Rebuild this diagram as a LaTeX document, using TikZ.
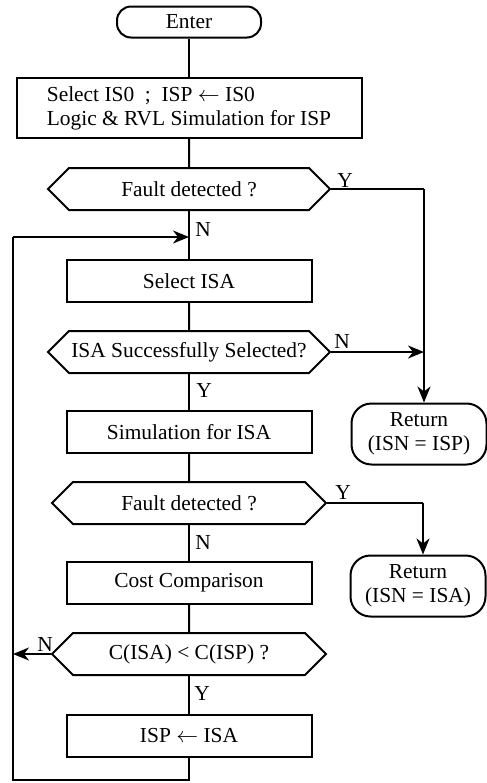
\documentclass[tikz,border=0pt]{standalone}
\usepackage{fontspec}
\setmainfont{Liberation Serif}
\usetikzlibrary{shapes.symbols,arrows.meta}

\begin{document}
\begin{tikzpicture}
            [x=0.5pt,y=-0.5pt,line width=1pt,
             every node/.style={font=\fontsize{10.7}{12}\selectfont,inner sep=0pt},
             term/.style={draw,rounded corners=7pt,minimum width=72pt,minimum height=15.5pt},
             proc/.style={draw,align=left,minimum width=122.5pt,minimum height=21pt},
             dec/.style={draw,signal,signal to=west and east,minimum height=21pt},
             ret/.style={draw,rounded corners=10pt,align=center,minimum width=67.5pt,minimum height=30.5pt},
             arr/.style={-{Stealth[length=8pt,width=6.5pt,inset=2.5pt]}}]
            \useasboundingbox (0,0) rectangle (487,783);
            \node[term] (enter) at (189,22) {Enter};
            \node[proc,minimum width=172.5pt,minimum height=30pt] (init) at (189,108)
                {Select IS0\ \ ;\ \ ISP $\leftarrow$ IS0\\Logic \& RVL Simulation for ISP};
            \node[dec,minimum width=141pt] (fd1) at (189,189) {Fault detected ?};
            \node[proc] (sel) at (189,281) {Select ISA};
            \node[dec,minimum width=141pt] (ok) at (189,352) {ISA Successfully Selected?};
            \node[proc] (sim) at (189,432) {Simulation for ISA};
            \node[dec,minimum width=137pt] (fd2) at (189,503) {Fault detected ?};
            \node[proc] (cost) at (189,583) {Cost Comparison};
            \node[dec,minimum width=137pt] (cmp) at (189,654) {C(ISA) < C(ISP) ?};
            \node[proc] (upd) at (189,736) {ISP $\leftarrow$ ISA};
            \node[ret] (ret1) at (419,434) {Return\\(ISN = ISP)};
            \node[ret] (ret2) at (418,586) {Return\\(ISN = ISA)};

            % Y / N labels
            \node (y1) at (345,180) {Y};
            \node (n1) at (203,229) {N};
            \node (n2) at (342,341) {N};
            \node (y2) at (204,390) {Y};
            \node (y3) at (343,492) {Y};
            \node (n3) at (203,542) {N};
            \node (n4) at (45,644) {N};
            \node (y4) at (202,693) {Y};

            \coordinate (merge) at (189,237);
            \coordinate (r1top) at (424,189);
            \coordinate (r1join) at (424,352);
            \coordinate (r2top) at (423,503);
            \coordinate (loopbot) at (189,780);
            \coordinate (loopleft) at (13,780);
            \coordinate (loopmid) at (13,654);
            \coordinate (looptop) at (13,237);

            \draw (enter) -- (init);
            \draw (init) -- (fd1);
            \draw (fd1) -- (sel);
            \draw (sel) -- (ok);
            \draw (ok) -- (sim);
            \draw (sim) -- (fd2);
            \draw (fd2) -- (cost);
            \draw (cost) -- (cmp);
            \draw (cmp) -- (upd);
            \draw (fd1.east) -- (r1top);
            \draw[arr] (r1top) -- (r1top |- ret1.north);
            \draw[arr] (ok.east) -- (r1join);
            \draw (fd2.east) -- (r2top);
            \draw[arr] (r2top) -- (r2top |- ret2.north);
            \draw[arr] (cmp.west) -- (loopmid);
            \draw (upd) -- (loopbot) -- (loopleft) -- (looptop);
            \draw[arr] (looptop) -- (merge);

        \end{tikzpicture}
\end{document}
